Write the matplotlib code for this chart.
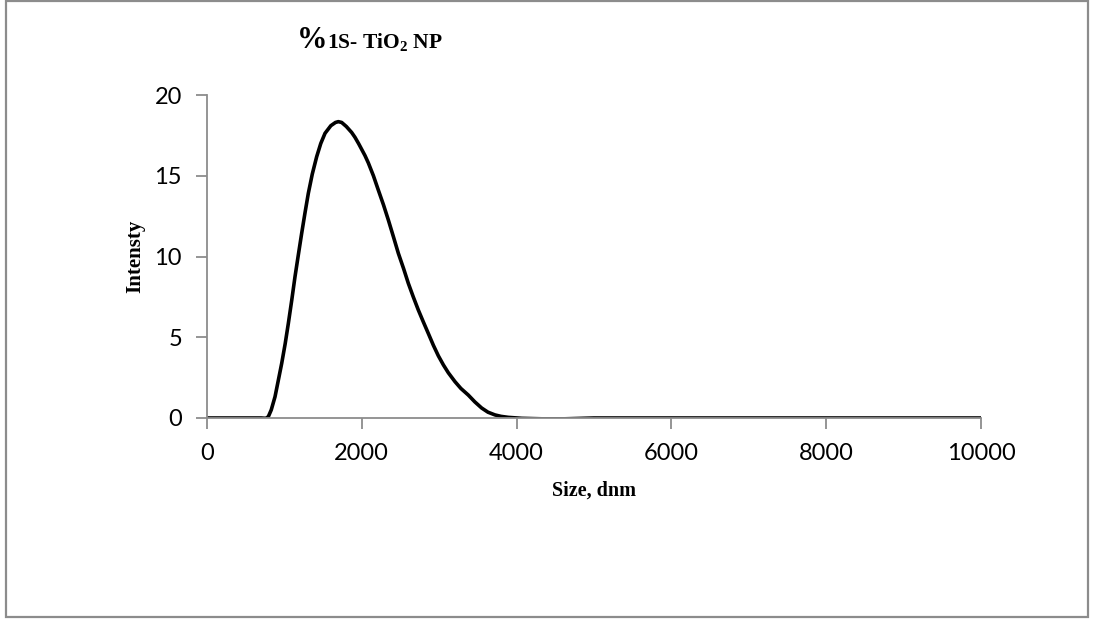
import matplotlib
matplotlib.use("Agg")
import matplotlib.pyplot as plt
from matplotlib.patches import Rectangle

size_dnm = [0, 200, 400, 600, 700, 760, 792, 830, 879, 920, 965, 1010, 1051, 1095, 1137,
            1180, 1223, 1266, 1309, 1360, 1417, 1470, 1525, 1600, 1660, 1697, 1740, 1800,
            1869, 1912, 1960, 2041, 2084, 2150, 2213, 2280, 2343, 2410, 2472, 2540, 2601,
            2665, 2730, 2795, 2859, 2925, 2989, 3055, 3118, 3204, 3280, 3376, 3460, 3548,
            3630, 3721, 3800, 3893, 4066, 4324, 4625, 5000, 6000, 7000, 8000, 9000, 10000]
intensity = [0, 0, 0, 0, 0, -0.02, 0.08, 0.5, 1.32, 2.3, 3.38, 4.6, 5.86, 7.3, 8.75,
             10.1, 11.43, 12.7, 13.91, 15.1, 16.18, 17.0, 17.63, 18.1, 18.3, 18.35, 18.3, 18.05,
             17.68, 17.38, 16.98, 16.25, 15.8, 15.0, 14.12, 13.2, 12.26, 11.2, 10.20, 9.25, 8.34,
             7.5, 6.69, 5.95, 5.24, 4.5, 3.85, 3.28, 2.8, 2.25, 1.83, 1.42, 1.0, 0.62,
             0.36, 0.19, 0.1, 0.04, -0.02, -0.05, -0.05, 0, 0, 0, 0, 0, 0]

x_ticks = [0, 2000, 4000, 6000, 8000, 10000]
y_ticks = [0, 5, 10, 15, 20]

plt.rcParams["mathtext.fontset"] = "custom"
plt.rcParams["mathtext.bf"] = "Liberation Serif:bold"
plt.rcParams["mathtext.rm"] = "Liberation Serif"

fig = plt.figure(figsize=(10.94, 6.21), dpi=100)
ax = fig.add_axes([207/1094, 1 - 418/621, (981-207)/1094, (418-95)/621])

ax.plot(size_dnm, intensity, color="black", lw=2.6, solid_capstyle="round", solid_joinstyle="round")
ax.set_xlim(0, 10000)
ax.set_ylim(0, 20)
ax.set_xticks(x_ticks)
ax.set_yticks(y_ticks)
for s in ["top", "right"]:
    ax.spines[s].set_visible(False)
for s in ["left", "bottom"]:
    ax.spines[s].set_color("#8c8c8c")
    ax.spines[s].set_linewidth(1.3)
ax.tick_params(axis="both", direction="out", length=8, width=1.3, color="#8c8c8c",
               labelsize=17, pad=10)
for lab in ax.get_xticklabels() + ax.get_yticklabels():
    lab.set_fontfamily("Lato")
ax.set_xlabel("Size, dnm", fontfamily="Liberation Serif", fontweight="bold", fontsize=14.5, labelpad=12)
ax.set_ylabel("Intensty", fontfamily="Liberation Serif", fontweight="bold", fontsize=15, labelpad=7)

fig.text(297/1094, 1 - 41/621, "%", fontfamily="Liberation Serif", fontweight="bold",
         fontsize=22, va="center", ha="left")
fig.text(327/1094, 1 - 43/621, r"1S- TiO$_\mathbf{2}$ NP", fontfamily="Liberation Serif",
         fontweight="bold", fontsize=15.5, va="center", ha="left")

fig.patches.append(Rectangle((6/1094, 1 - 617/621), (1088-6)/1094, (617-1)/621,
                             transform=fig.transFigure, fill=False, edgecolor="#8c8c8c", lw=1.6))

fig.savefig("out.png", dpi=100)
